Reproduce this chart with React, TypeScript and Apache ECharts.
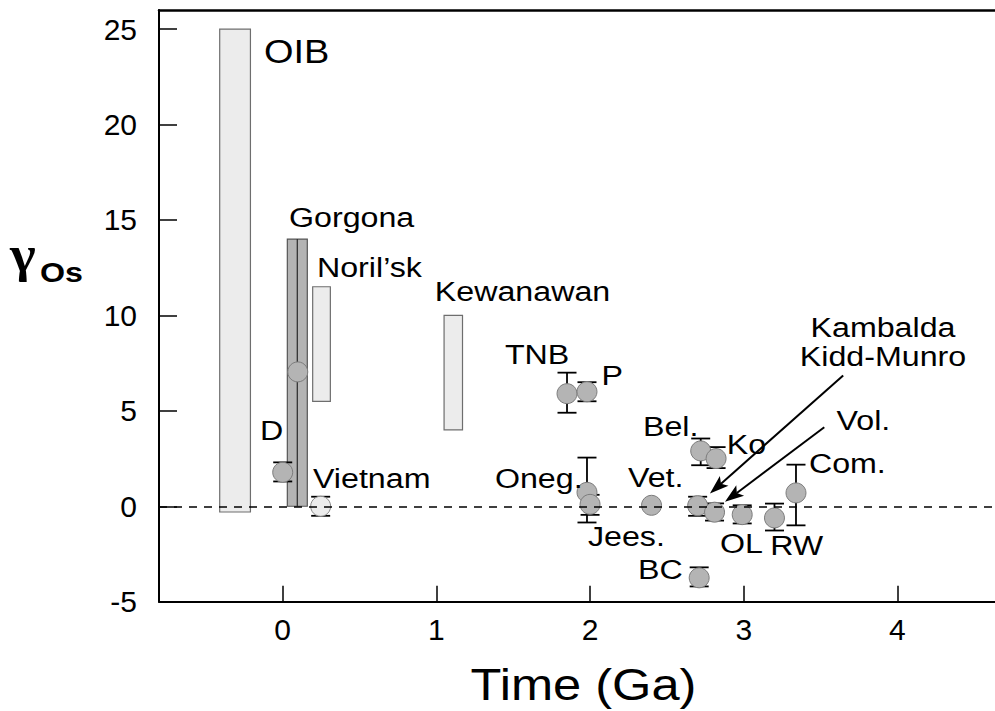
import React, { useEffect, useRef } from 'react';
import * as echarts from 'echarts';

// ---------------- data ----------------
const xTickValues = [0, 1, 2, 3, 4];
const yTickValues = [-5, 0, 5, 10, 15, 20, 25];

// vertical ranges (boxes)
const rangeNames = ['OIB', 'Gorgona', 'Noril’sk', 'Kewanawan'];
const rangeAgeFrom = [-0.41, 0.03, 0.195, 1.05];
const rangeAgeTo = [-0.21, 0.16, 0.31, 1.17];
const rangeGammaLow = [-0.3, 0, 5.5, 4.0];
const rangeGammaHigh = [25, 14, 11.5, 10.0];

// points with error bars
const pointNames = ['D', 'Gorgona', 'Vietnam', 'TNB', 'P', 'Oneg.', 'Jees.', 'Vet.', 'Bel.', 'Ko', 'Kambalda / Kidd-Munro', 'Vol.', 'OL', 'RW', 'Com.', 'BC'];
const pointAge = [0.0, 0.098, 0.247, 1.85, 1.98, 1.98, 2.0, 2.4, 2.72, 2.82, 2.7, 2.81, 2.99, 3.2, 3.34, 2.71];
const pointGamma = [1.78, 7.04, 0.0, 5.9, 6.0, 0.73, 0.1, 0.05, 2.9, 2.5, 0.03, -0.31, -0.44, -0.61, 0.7, -3.75];
const pointErrLow = [1.3, null, -0.5, 4.9, 5.5, -0.85, -0.45, null, 2.15, 2.0, -0.5, -0.75, -0.9, -1.27, -1.0, -4.2];
const pointErrHigh = [2.3, null, 0.5, 7.0, 6.5, 2.55, 0.6, null, 3.55, 3.1, 0.5, 0.15, 0.05, 0.14, 2.18, -3.2];

// arrows (data coordinates)
const arrowFromAge = [3.647, 3.524];
const arrowFromGamma = [6.85, 4.14];
const arrowToAge = [2.78, 2.878];
const arrowToGamma = [0.67, 0.23];

// annotation texts
const labelTexts = ['OIB', 'Gorgona', 'Noril’sk', 'Kewanawan', 'D', 'Vietnam', 'TNB', 'P', 'Bel.', 'Ko', 'Oneg.', 'Vet.', 'Jees.', 'BC', 'Kambalda', 'Kidd-Munro', 'Vol.', 'Com.', 'OL', 'RW'];

// ---------------- layout ----------------
const X_MIN = -0.805;
const X_MAX = 4.635;
const Y_MIN = -5;
const Y_MAX = 26;
// anchor (age, gamma) of each annotation text, with alignment
const labelAnchorAge = [-0.122, 0.041, 0.223, 0.99, -0.147, 0.197, 1.446, 2.075, 2.344, 2.889, 1.381, 2.247, 1.986, 2.312, 3.906, 3.906, 3.604, 3.424, 2.846, 3.172];
const labelAnchorGamma = [23.83, 15.12, 12.5, 11.25, 3.97, 1.45, 7.95, 6.85, 4.18, 3.23, 1.45, 1.5, -1.59, -3.32, 9.36, 7.86, 4.49, 2.24, -1.95, -2.06];
const labelCentered = new Set(['Kambalda', 'Kidd-Munro']);
const labelLarge = new Set(['OIB']);

const FONT = "'Liberation Sans', Arial, Helvetica, sans-serif";
const STRETCH = 1.15;
const DARK_RANGES = new Set(['Gorgona']);
const LIGHT_POINTS = new Set(['Vietnam']);

export default function App() {
  const ref = useRef<HTMLDivElement>(null);

  useEffect(() => {
    const el = ref.current;
    if (!el) return;
    const chart = echarts.init(el, null, { renderer: 'svg' });

    const rangeData = rangeNames.map((_, i) => [rangeAgeFrom[i], rangeAgeTo[i], rangeGammaLow[i], rangeGammaHigh[i]]);
    const errData: number[][] = [];
    pointNames.forEach((_, i) => {
      if (pointErrLow[i] != null && pointErrHigh[i] != null) {
        errData.push([pointAge[i], pointErrLow[i] as number, pointErrHigh[i] as number]);
      }
    });
    const scatterData = pointNames.map((n, i) => ({
      name: n,
      value: [pointAge[i], pointGamma[i]],
      itemStyle: LIGHT_POINTS.has(n) ? { color: '#ececec', borderColor: '#8a8a8a' } : undefined,
    }));
    const arrowData = arrowFromAge.map((_, i) => [arrowFromAge[i], arrowFromGamma[i], arrowToAge[i], arrowToGamma[i]]);

    const option: any = {
      animation: false,
      backgroundColor: '#ffffff',
      grid: { left: 159, top: 10, right: 0, bottom: 109.3, containLabel: false },
      xAxis: [
        {
          type: 'value',
          min: X_MIN,
          max: X_MAX,
          position: 'bottom',
          axisLine: { show: true, onZero: false, lineStyle: { color: '#000', width: 2 } },
          axisTick: { show: true, inside: true, length: 16, customValues: xTickValues, lineStyle: { color: '#000', width: 1.5 } },
          axisLabel: { show: true, customValues: xTickValues, margin: 13, fontSize: 30, fontFamily: FONT, color: '#000' },
          splitLine: { show: false },
        },
        {
          type: 'value',
          min: X_MIN,
          max: X_MAX,
          position: 'top',
          axisLine: { show: true, onZero: false, lineStyle: { color: '#000', width: 2.5 } },
          axisTick: { show: false },
          axisLabel: { show: false },
          splitLine: { show: false },
        },
      ],
      yAxis: {
        type: 'value',
        min: Y_MIN,
        max: Y_MAX,
        axisLine: { show: true, onZero: false, lineStyle: { color: '#000', width: 2 } },
        axisTick: { show: true, inside: true, length: 18, customValues: yTickValues, lineStyle: { color: '#000', width: 1.5 } },
        axisLabel: { show: true, customValues: yTickValues, margin: 22, fontSize: 30, fontFamily: FONT, color: '#000' },
        splitLine: { show: false },
      },
      series: [
        {
          type: 'line',
          data: [],
          z: 1,
          silent: true,
          markLine: {
            silent: true,
            symbol: ['none', 'none'],
            label: { show: false },
            lineStyle: { color: '#000', width: 1.5, type: [8, 7] },
            data: [{ yAxis: 0 }],
          },
        },
        {
          type: 'custom',
          name: 'ranges',
          z: 2,
          silent: true,
          clip: false,
          data: rangeData,
          encode: { x: [0, 1], y: [2, 3] },
          renderItem: (params: any, api: any) => {
            const name = rangeNames[params.dataIndex];
            const dark = DARK_RANGES.has(name);
            const p0 = api.coord([api.value(0), api.value(3)]);
            const p1 = api.coord([api.value(1), api.value(2)]);
            const children: any[] = [
              {
                type: 'rect',
                shape: { x: p0[0], y: p0[1], width: p1[0] - p0[0], height: p1[1] - p0[1] },
                style: { fill: dark ? '#b4b4b4' : '#ececec', stroke: dark ? '#555' : '#6e6e6e', lineWidth: 1.2 },
              },
            ];
            if (dark) {
              const mx = (p0[0] + p1[0]) / 2;
              children.push({
                type: 'line',
                shape: { x1: mx, y1: p0[1], x2: mx, y2: p1[1] },
                style: { stroke: '#333', lineWidth: 1.3 },
              });
            }
            return { type: 'group', children };
          },
        },
        {
          type: 'custom',
          name: 'errors',
          z: 3,
          silent: true,
          clip: false,
          data: errData,
          encode: { x: 0, y: [1, 2] },
          renderItem: (params: any, api: any) => {
            const top = api.coord([api.value(0), api.value(2)]);
            const bot = api.coord([api.value(0), api.value(1)]);
            const hw = 9.5;
            const st = { stroke: '#000', lineWidth: 1.8 };
            return {
              type: 'group',
              children: [
                { type: 'line', shape: { x1: top[0], y1: top[1], x2: bot[0], y2: bot[1] }, style: st },
                { type: 'line', shape: { x1: top[0] - hw, y1: top[1], x2: top[0] + hw, y2: top[1] }, style: st },
                { type: 'line', shape: { x1: bot[0] - hw, y1: bot[1], x2: bot[0] + hw, y2: bot[1] }, style: st },
              ],
            };
          },
        },
        {
          type: 'scatter',
          name: 'points',
          z: 4,
          silent: true,
          symbol: 'circle',
          symbolSize: 20,
          itemStyle: { color: '#b4b4b4', borderColor: '#7c7c7c', borderWidth: 1, opacity: 1 },
          data: scatterData,
        },
        {
          type: 'custom',
          name: 'arrows',
          z: 5,
          silent: true,
          clip: false,
          data: arrowData,
          encode: { x: [0, 2], y: [1, 3] },
          renderItem: (params: any, api: any) => {
            const a = api.coord([api.value(0), api.value(1)]);
            const b = api.coord([api.value(2), api.value(3)]);
            const dx = b[0] - a[0];
            const dy = b[1] - a[1];
            const len = Math.sqrt(dx * dx + dy * dy);
            const ux = dx / len;
            const uy = dy / len;
            const nx = -uy;
            const ny = ux;
            const L = 19;
            const W = 6.5;
            const bx = b[0] - ux * L;
            const by = b[1] - uy * L;
            const notchX = b[0] - ux * L * 0.78;
            const notchY = b[1] - uy * L * 0.78;
            return {
              type: 'group',
              children: [
                { type: 'line', shape: { x1: a[0], y1: a[1], x2: notchX, y2: notchY }, style: { stroke: '#000', lineWidth: 2 } },
                {
                  type: 'polygon',
                  shape: { points: [[b[0], b[1]], [bx + nx * W, by + ny * W], [notchX, notchY], [bx - nx * W, by - ny * W]] },
                  style: { fill: '#000' },
                },
              ],
            };
          },
        },
      ],
    };

    chart.setOption(option);

    const graphics: any[] = labelTexts.map((t, i) => {
      const p = chart.convertToPixel({ gridIndex: 0 } as any, [labelAnchorAge[i], labelAnchorGamma[i]]) as number[];
      return {
        type: 'text',
        x: p[0],
        y: p[1],
        scaleX: STRETCH,
        silent: true,
        z: 100,
        style: {
          text: t,
          fontSize: labelLarge.has(t) ? 33 : 28,
          fontFamily: FONT,
          fill: '#000',
          align: labelCentered.has(t) ? 'center' : 'left',
          verticalAlign: 'middle',
        },
      };
    });
    // axis titles
    graphics.push({
      type: 'text',
      x: 10,
      y: 254,
      scaleX: 1.1,
      silent: true,
      z: 100,
      style: { text: 'γ', fontSize: 50, fontWeight: 'bold', fontFamily: "'Liberation Serif', 'Times New Roman', serif", fill: '#000', align: 'left', verticalAlign: 'middle' },
    });
    graphics.push({
      type: 'text',
      x: 40,
      y: 272,
      scaleX: STRETCH,
      silent: true,
      z: 100,
      style: { text: 'Os', fontSize: 28, fontWeight: 'bold', fontFamily: FONT, fill: '#000', align: 'left', verticalAlign: 'middle' },
    });
    graphics.push({
      type: 'text',
      x: 583.5,
      y: 685,
      scaleX: STRETCH,
      silent: true,
      z: 100,
      style: { text: 'Time (Ga)', fontSize: 44, fontFamily: FONT, fill: '#000', align: 'center', verticalAlign: 'middle' },
    });

    chart.setOption({ graphic: graphics });

    return () => {
      chart.dispose();
    };
  }, []);

  return (
    <div
      ref={ref}
      style={{ position: 'fixed', left: 0, top: 0, width: 995, height: 711, background: '#fff' }}
    />
  );
}
